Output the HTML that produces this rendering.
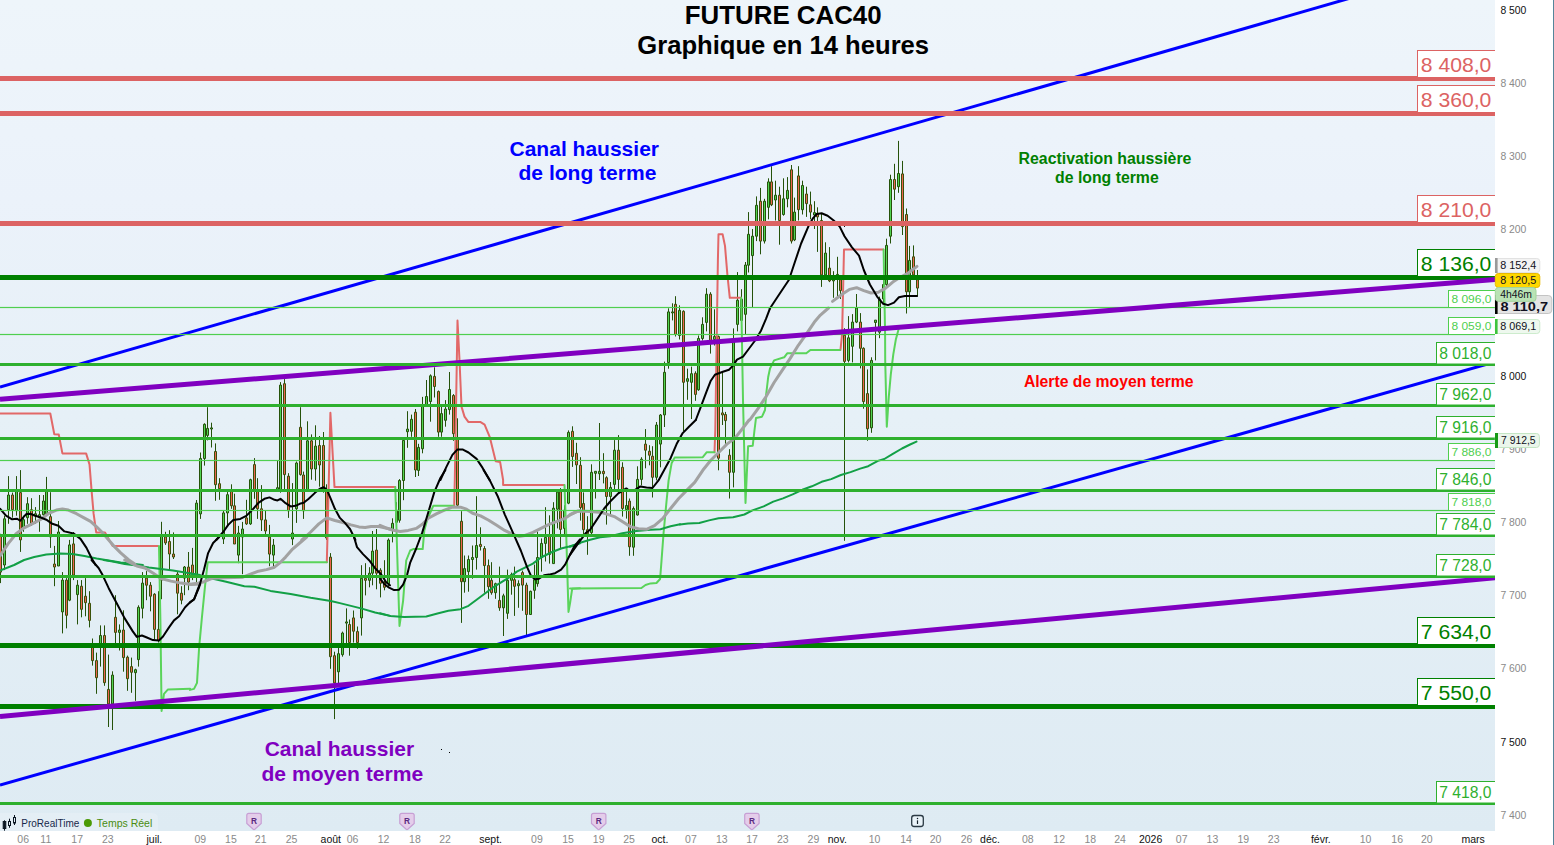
<!DOCTYPE html>
<html><head><meta charset="utf-8"><title>FUTURE CAC40</title>
<style>html,body{margin:0;padding:0;background:#fff;}body{width:1554px;height:845px;overflow:hidden;position:relative;font-family:"Liberation Sans",sans-serif;}svg{position:absolute;left:0;top:0;display:block}text{font-family:"Liberation Sans",sans-serif;}</style></head><body>
<svg width="1554" height="845" viewBox="0 0 1554 845">
<defs><linearGradient id="bg" x1="0" y1="0" x2="0" y2="1"><stop offset="0" stop-color="#eef5fa"/><stop offset="0.24" stop-color="#ebf2fa"/><stop offset="0.5" stop-color="#e6f0f7"/><stop offset="1" stop-color="#deebf3"/></linearGradient>
<clipPath id="cp"><rect x="0" y="0" width="1495" height="831"/></clipPath></defs>
<rect x="0" y="0" width="1554" height="845" fill="#fff"/>
<rect x="0" y="0" width="1495" height="831" fill="url(#bg)"/>
<rect x="1553" y="0" width="1" height="845" fill="#55859a"/>
<g clip-path="url(#cp)">
<path d="M0.5 533.8V583.1M4.5 515.7V570.1M8.5 476.1V523.8M12.5 492.6V517.7M16.5 476.1V515.7M20.5 470.1V551.9M23.5 515.7V531.8M27.5 497.2V523.8M31.5 498.2V525.8M35.5 507.1V523.8M39.5 495.0V531.8M43.5 495.0V515.7M46.5 476.9V513.7M50.5 492.2V547.9M54.5 545.9V586.2M58.5 521.0V566.0M62.5 572.1V633.4M66.5 578.1V628.4M69.5 539.9V601.2M73.5 532.0V580.1M77.5 580.1V624.4M81.5 580.1V617.3M85.5 578.1V616.3M89.5 591.2V627.4M92.5 638.5V665.6M96.5 652.6V693.8M100.5 625.4V666.6M104.5 625.4V685.8M108.5 654.6V727.0M112.5 671.3V730.0M115.5 595.2V643.5M119.5 624.4V650.5M123.5 610.3V671.7M127.5 655.6V690.8M131.5 657.6V692.8M135.5 668.7V700.8M138.5 605.3V666.6M142.5 572.1V618.4M146.5 571.1V600.2M150.5 582.1V611.3M154.5 593.2V639.5M158.5 591.2V642.5M161.5 521.8V599.2M165.5 531.8V544.9M169.5 530.2V570.1M173.5 532.4V559.0M177.5 571.1V614.3M181.5 586.2V604.3M184.5 566.0V595.2M188.5 552.0V590.2M192.5 547.9V580.1M196.5 500.0V582.1M200.5 452.5V518.9M204.5 423.3V465.6M207.5 407.2V440.4M211.5 422.7V447.5M215.5 443.4V500.8M219.5 478.2V499.8M223.5 510.8V544.0M227.5 491.7V524.9M231.5 484.3V508.8M234.5 493.7V544.0M238.5 525.9V563.2M242.5 521.9V574.2M246.5 499.8V524.9M250.5 478.7V524.9M254.5 458.1V498.8M257.5 478.2V518.9M261.5 485.1V531.0M265.5 510.8V537.0M269.5 524.9V566.2M273.5 539.0V567.2M277.5 460.5V490.7M280.5 382.1V492.7M284.5 379.1V490.7M288.5 473.2V517.9M292.5 483.1V545.1M296.5 461.5V522.9M300.5 407.2V475.6M303.5 471.6V518.9M307.5 421.3V490.7M311.5 434.4V479.7M315.5 425.3V480.7M319.5 436.0V486.7M323.5 432.0V492.7M326.5 484.3V540.0M330.5 553.1V668.8M334.5 651.7V719.1M338.5 647.7V683.9M342.5 631.6V656.7M346.5 608.4V643.7M349.5 619.5V655.7M353.5 610.5V642.6M357.5 626.5V648.7M361.5 565.2V635.6M365.5 563.2V595.4M369.5 567.2V587.3M372.5 531.0V585.3M376.5 529.0V589.3M380.5 568.2V597.4M384.5 560.2V590.3M388.5 538.4V586.7M392.5 518.3V542.4M396.5 502.2V530.4M399.5 479.1V522.7M403.5 438.8V500.2M407.5 411.2V447.8M411.5 414.6V436.8M415.5 409.0V477.0M418.5 443.8V476.0M422.5 396.9V453.3M426.5 380.0V405.6M430.5 374.4V421.7M434.5 367.3V397.5M438.5 390.5V436.8M441.5 406.6V436.8M445.5 400.1V426.7M449.5 372.0V414.6M453.5 394.1V440.8M457.5 418.3V506.2M461.5 511.2V622.9M464.5 555.5V592.7M468.5 555.5V591.7M472.5 545.5V578.7M476.5 496.2V569.6M480.5 527.3V550.5M484.5 546.1V592.7M488.5 559.5V598.8M491.5 562.2V594.7M495.5 582.7V598.8M499.5 566.6V610.8M503.5 593.7V636.0M507.5 569.6V618.9M511.5 572.6V594.7M514.5 566.6V615.9M518.5 580.3V607.8M522.5 570.6V610.8M526.5 582.7V635.0M530.5 590.7V614.9M534.5 564.6V598.8M537.5 531.4V586.7M541.5 538.4V571.6M545.5 507.2V561.5M549.5 515.3V563.6M553.5 502.2V563.6M557.5 490.1V528.4M560.5 488.1V548.5M564.5 505.2V534.4M568.5 430.4V504.2M572.5 426.3V466.9M576.5 442.8V484.0M580.5 457.2V520.6M583.5 492.4V534.7M587.5 516.2V554.8M591.5 464.3V535.7M595.5 471.3V498.5M599.5 423.0V480.0M603.5 453.2V483.4M606.5 476.3V524.6M610.5 482.0V515.6M614.5 440.1V489.4M618.5 435.1V493.4M622.5 462.3V516.6M626.5 488.4V518.6M629.5 498.5V555.8M633.5 506.5V555.8M637.5 466.3V515.6M641.5 457.2V485.4M645.5 429.1V468.3M649.5 445.2V465.3M652.5 446.2V497.5M656.5 422.0V480.4M660.5 414.0V467.3M664.5 361.6V427.0M668.5 308.3V368.7M672.5 303.3V320.4M675.5 296.2V336.5M679.5 305.3V339.5M683.5 310.3V431.0M687.5 368.7V399.8M691.5 366.6V419.0M695.5 371.3V400.8M698.5 335.5V390.8M702.5 317.3V340.5M706.5 288.2V331.4M710.5 292.2V353.6M714.5 309.3V345.5M718.5 335.5V470.3M722.5 372.7V425.0M725.5 411.9V444.1M729.5 449.2V498.5M733.5 328.4V487.4M737.5 272.1V331.4M741.5 289.2V330.4M745.5 262.0V334.4M748.5 212.1V272.5M752.5 229.0V307.5M756.5 196.4V241.1M760.5 187.9V254.3M764.5 198.8V243.5M768.5 178.3V219.3M771.5 166.2V206.1M775.5 180.7V220.5M779.5 186.7V244.7M783.5 178.3V215.7M787.5 177.1V207.3M791.5 165.0V243.5M794.5 197.6V241.1M798.5 166.2V220.5M802.5 180.7V214.5M806.5 186.7V216.9M810.5 191.6V219.3M814.5 201.2V229.0M817.5 207.3V251.9M821.5 213.3V286.9M825.5 242.3V279.7M829.5 247.1V282.1M833.5 271.2V297.8M837.5 256.8V296.6M840.5 277.3V299.0M844.5 328.2V540.8M848.5 316.1V362.4M852.5 314.1V362.4M856.5 294.0V323.1M860.5 313.1V368.4M863.5 347.3V408.7M867.5 369.4V440.8M871.5 357.3V432.8M875.5 320.1V360.4M879.5 296.6V338.2M883.5 279.7V303.8M886.5 238.7V286.9M890.5 174.7V243.5M894.5 163.8V200.0M898.5 140.9V192.8M902.5 160.9V235.0M906.5 208.5V313.5M909.5 245.9V307.5M913.5 245.4V277.3M917.5 270.0V296.6" stroke="#25520a" stroke-width="1" fill="none"/>
<path d="M3.5 518.8h2V565.0h-2zM7.5 495.0h2V509.7h-2zM15.5 491.6h2V510.7h-2zM22.5 519.7h2V527.8h-2zM26.5 503.7h2V517.7h-2zM34.5 513.7h2V515.7h-2zM38.5 514.7h2V517.7h-2zM42.5 501.0h2V514.7h-2zM45.5 491.6h2V513.7h-2zM57.5 532.0h2V566.0h-2zM61.5 580.1h2V611.9h-2zM68.5 544.9h2V600.2h-2zM76.5 585.2h2V594.6h-2zM99.5 635.5h2V645.5h-2zM111.5 675.1h2V703.9h-2zM118.5 630.0h2V632.4h-2zM134.5 669.7h2V672.7h-2zM137.5 607.3h2V659.6h-2zM141.5 583.1h2V608.3h-2zM160.5 535.9h2V580.1h-2zM183.5 567.0h2V578.1h-2zM195.5 503.1h2V576.1h-2zM199.5 458.5h2V513.9h-2zM203.5 424.3h2V458.5h-2zM206.5 428.4h2V435.4h-2zM210.5 427.9h2V429.0h-2zM222.5 512.9h2V539.0h-2zM226.5 494.7h2V512.9h-2zM237.5 533.0h2V555.1h-2zM241.5 529.0h2V537.0h-2zM249.5 479.7h2V523.9h-2zM272.5 545.1h2V555.1h-2zM276.5 487.7h2V490.7h-2zM279.5 385.1h2V490.7h-2zM291.5 533.0h2V539.0h-2zM295.5 463.0h2V508.8h-2zM306.5 440.8h2V490.7h-2zM314.5 446.1h2V469.0h-2zM337.5 653.7h2V671.8h-2zM341.5 633.0h2V654.7h-2zM345.5 621.9h2V623.1h-2zM360.5 578.3h2V617.9h-2zM368.5 573.2h2V580.3h-2zM371.5 551.1h2V573.2h-2zM387.5 540.0h2V583.7h-2zM391.5 523.3h2V530.4h-2zM395.5 510.2h2V522.3h-2zM398.5 480.5h2V520.3h-2zM402.5 440.4h2V480.5h-2zM406.5 429.1h2V431.7h-2zM410.5 419.3h2V431.3h-2zM417.5 447.4h2V470.4h-2zM421.5 404.6h2V448.8h-2zM425.5 396.5h2V404.6h-2zM429.5 375.8h2V401.5h-2zM440.5 413.6h2V432.1h-2zM444.5 409.0h2V420.3h-2zM448.5 389.5h2V409.6h-2zM463.5 568.6h2V581.7h-2zM467.5 559.5h2V571.6h-2zM471.5 557.5h2V559.5h-2zM475.5 545.5h2V557.5h-2zM494.5 583.7h2V592.7h-2zM502.5 595.8h2V607.8h-2zM506.5 580.3h2V613.3h-2zM510.5 574.6h2V580.3h-2zM517.5 583.7h2V585.7h-2zM529.5 591.3h2V614.5h-2zM533.5 579.7h2V590.3h-2zM536.5 557.5h2V583.7h-2zM540.5 543.4h2V557.5h-2zM544.5 537.4h2V543.4h-2zM552.5 508.2h2V563.6h-2zM556.5 492.1h2V509.2h-2zM563.5 510.2h2V528.4h-2zM567.5 432.4h2V503.2h-2zM590.5 472.3h2V532.7h-2zM594.5 471.3h2V473.3h-2zM598.5 471.3h2V473.7h-2zM609.5 487.4h2V496.5h-2zM613.5 450.2h2V484.4h-2zM625.5 505.5h2V509.5h-2zM632.5 508.5h2V547.2h-2zM636.5 479.4h2V515.0h-2zM640.5 459.2h2V479.4h-2zM655.5 425.0h2V477.3h-2zM659.5 415.0h2V444.1h-2zM663.5 372.3h2V414.9h-2zM667.5 311.9h2V362.6h-2zM671.5 311.9h2V312.9h-2zM678.5 310.3h2V335.5h-2zM686.5 378.7h2V381.3h-2zM690.5 373.7h2V382.3h-2zM697.5 338.5h2V389.8h-2zM701.5 324.4h2V338.5h-2zM705.5 294.2h2V322.4h-2zM713.5 336.5h2V339.5h-2zM732.5 340.5h2V472.3h-2zM736.5 300.2h2V324.4h-2zM740.5 299.2h2V320.4h-2zM744.5 265.0h2V314.3h-2zM747.5 234.3h2V265.2h-2zM751.5 236.2h2V255.6h-2zM755.5 205.3h2V236.2h-2zM763.5 201.2h2V241.1h-2zM767.5 181.9h2V207.3h-2zM774.5 195.2h2V200.0h-2zM782.5 198.8h2V214.5h-2zM786.5 190.4h2V198.8h-2zM793.5 212.1h2V239.9h-2zM801.5 185.5h2V209.7h-2zM813.5 212.6h2V215.0h-2zM824.5 253.1h2V274.9h-2zM832.5 277.3h2V280.9h-2zM836.5 274.4h2V277.3h-2zM847.5 337.8h2V360.4h-2zM851.5 322.1h2V346.3h-2zM855.5 308.0h2V322.1h-2zM870.5 360.4h2V427.8h-2zM874.5 320.1h2V322.5h-2zM878.5 299.0h2V332.2h-2zM882.5 284.5h2V299.0h-2zM885.5 245.4h2V284.5h-2zM889.5 179.5h2V236.2h-2zM897.5 173.5h2V186.7h-2zM908.5 260.4h2V291.8h-2z" stroke="#25520a" stroke-width="1" fill="#52d452"/>
<path d="M-0.5 534.8h2V572.1h-2zM11.5 495.0h2V509.7h-2zM19.5 492.6h2V539.9h-2zM30.5 509.7h2V523.8h-2zM49.5 516.7h2V536.9h-2zM53.5 564.0h2V567.0h-2zM65.5 580.1h2V615.3h-2zM72.5 543.9h2V575.1h-2zM80.5 586.2h2V609.3h-2zM84.5 596.2h2V602.7h-2zM88.5 603.3h2V620.4h-2zM91.5 647.5h2V660.6h-2zM95.5 660.6h2V677.7h-2zM103.5 635.5h2V682.7h-2zM107.5 689.4h2V703.9h-2zM114.5 617.3h2V632.4h-2zM122.5 630.0h2V657.6h-2zM126.5 657.2h2V678.7h-2zM130.5 666.6h2V672.3h-2zM145.5 578.1h2V585.2h-2zM149.5 585.2h2V596.2h-2zM153.5 594.2h2V629.4h-2zM157.5 629.4h2V640.5h-2zM164.5 536.9h2V542.9h-2zM168.5 541.5h2V554.0h-2zM172.5 554.0h2V557.0h-2zM176.5 574.1h2V593.2h-2zM180.5 593.2h2V600.2h-2zM187.5 567.0h2V582.1h-2zM191.5 565.0h2V574.1h-2zM214.5 451.5h2V484.7h-2zM218.5 483.7h2V488.7h-2zM230.5 490.7h2V505.8h-2zM233.5 505.8h2V544.0h-2zM245.5 517.9h2V523.9h-2zM253.5 464.6h2V490.7h-2zM256.5 489.7h2V508.8h-2zM260.5 508.8h2V519.9h-2zM264.5 519.9h2V531.0h-2zM268.5 537.0h2V554.1h-2zM283.5 383.7h2V474.6h-2zM287.5 476.2h2V510.8h-2zM299.5 427.3h2V474.6h-2zM302.5 475.0h2V510.8h-2zM310.5 440.8h2V469.0h-2zM318.5 445.5h2V465.0h-2zM322.5 445.5h2V488.7h-2zM325.5 490.7h2V538.0h-2zM329.5 557.1h2V656.7h-2zM333.5 655.7h2V682.9h-2zM348.5 624.5h2V642.6h-2zM352.5 617.9h2V631.2h-2zM356.5 631.6h2V642.6h-2zM364.5 578.3h2V580.3h-2zM375.5 550.1h2V573.2h-2zM379.5 570.2h2V583.3h-2zM383.5 582.3h2V587.3h-2zM414.5 412.2h2V470.0h-2zM433.5 376.4h2V386.5h-2zM437.5 391.5h2V432.1h-2zM452.5 395.5h2V433.7h-2zM456.5 437.8h2V505.2h-2zM460.5 521.3h2V581.7h-2zM479.5 544.4h2V546.5h-2zM483.5 548.5h2V565.6h-2zM487.5 565.6h2V586.7h-2zM490.5 580.3h2V592.7h-2zM498.5 600.4h2V607.8h-2zM513.5 579.7h2V586.3h-2zM521.5 572.6h2V585.1h-2zM525.5 585.1h2V614.5h-2zM548.5 536.4h2V554.5h-2zM559.5 491.7h2V529.4h-2zM571.5 431.3h2V456.5h-2zM575.5 453.3h2V464.9h-2zM579.5 465.3h2V507.5h-2zM582.5 503.5h2V529.7h-2zM586.5 529.7h2V533.7h-2zM602.5 471.3h2V473.7h-2zM605.5 477.7h2V496.5h-2zM617.5 450.2h2V479.4h-2zM621.5 467.3h2V508.5h-2zM628.5 501.1h2V546.8h-2zM644.5 444.1h2V450.2h-2zM648.5 451.2h2V455.2h-2zM651.5 456.2h2V477.3h-2zM674.5 304.3h2V334.4h-2zM682.5 311.3h2V382.3h-2zM694.5 373.3h2V394.4h-2zM709.5 294.2h2V340.5h-2zM717.5 336.5h2V458.2h-2zM721.5 412.9h2V414.9h-2zM724.5 414.5h2V420.6h-2zM728.5 455.2h2V472.3h-2zM759.5 201.2h2V241.1h-2zM770.5 181.9h2V204.8h-2zM778.5 195.2h2V220.5h-2zM790.5 169.8h2V241.1h-2zM797.5 175.9h2V209.7h-2zM805.5 194.0h2V203.6h-2zM809.5 204.8h2V212.1h-2zM816.5 213.3h2V216.9h-2zM820.5 220.5h2V274.9h-2zM828.5 268.1h2V280.9h-2zM839.5 279.7h2V290.6h-2zM843.5 335.2h2V361.4h-2zM859.5 322.1h2V348.3h-2zM862.5 348.3h2V401.6h-2zM866.5 393.6h2V428.8h-2zM893.5 179.5h2V189.2h-2zM901.5 173.9h2V226.6h-2zM905.5 214.5h2V291.8h-2zM912.5 256.8h2V274.9h-2zM916.5 279.7h2V288.1h-2z" stroke="#3a520a" stroke-width="1" fill="#ec6450"/>
<polyline points="0.0,413.5 50.3,413.5 54.3,434.2 58.8,434.6 62.4,453.4 86.1,453.4 89.5,464.4 91.5,489.6 93.6,513.7 96.2,532.4 105.0,532.4 112.7,545.9 157.9,545.9" fill="none" stroke="#e26868" stroke-width="2" stroke-linejoin="round" stroke-linecap="round" />
<polyline points="326.8,562.2 327.4,540.0 330.4,412.7 334.5,487.1 390.0,487.1" fill="none" stroke="#e26868" stroke-width="2" stroke-linejoin="round" stroke-linecap="round" />
<polyline points="454.2,505.8 454.8,480.0 457.5,320.5 459.5,360.3 461.5,406.6 464.5,416.6 468.5,422.1 480.6,422.1 484.6,424.7 489.7,436.8 495.7,461.3 500.1,461.9 503.1,480.0 503.1,485.1 564.1,485.1" fill="none" stroke="#e26868" stroke-width="2" stroke-linejoin="round" stroke-linecap="round" />
<polyline points="380.0,487.1 395.1,487.1" fill="none" stroke="#e26868" stroke-width="2" stroke-linejoin="round" stroke-linecap="round" />
<polyline points="714.5,452.2 715.3,430.0 717.9,260.0 718.5,234.3 722.6,234.3 725.0,245.9 727.4,274.9 729.8,297.8 741.0,297.8" fill="none" stroke="#e26868" stroke-width="2" stroke-linejoin="round" stroke-linecap="round" />
<polyline points="840.5,349.9 842.1,334.0 844.0,249.5 883.2,249.5" fill="none" stroke="#e26868" stroke-width="2" stroke-linejoin="round" stroke-linecap="round" />
<polyline points="159.0,545.9 160.4,620.4 161.6,710.9 164.0,693.8 168.0,689.4 190.1,688.8" fill="none" stroke="#5ad45a" stroke-width="2" stroke-linejoin="round" stroke-linecap="round" />
<polyline points="190.0,689.9 194.0,688.9 197.0,682.9 199.1,647.7 202.1,615.5 205.1,585.3 207.7,562.2 326.8,562.2" fill="none" stroke="#5ad45a" stroke-width="2" stroke-linejoin="round" stroke-linecap="round" />
<polyline points="395.3,487.1 397.1,550.5 399.5,625.9 403.1,600.8 406.2,560.5 410.2,550.5 413.2,549.1 422.7,549.1 424.3,530.4 427.3,519.3 433.3,505.8 453.4,505.8" fill="none" stroke="#5ad45a" stroke-width="2" stroke-linejoin="round" stroke-linecap="round" />
<polyline points="564.5,485.1 566.1,530.4 568.5,611.9 570.1,602.8 572.2,588.7 580.0,588.3" fill="none" stroke="#5ad45a" stroke-width="2" stroke-linejoin="round" stroke-linecap="round" />
<polyline points="570.0,588.6 641.4,588.0 645.5,585.0 650.5,583.4 656.5,583.0 660.1,579.0 661.5,560.8 663.6,532.7 666.6,500.5 668.6,480.4 671.6,463.3 674.6,457.6 702.8,457.2 706.8,452.2 714.5,452.2" fill="none" stroke="#5ad45a" stroke-width="2" stroke-linejoin="round" stroke-linecap="round" />
<polyline points="741.2,297.8 743.0,400.0 745.5,503.0 747.0,470.0 748.1,446.2 752.7,445.8 754.4,431.0 756.0,418.0 762.0,416.7 765.0,410.0 766.2,394.0 768.2,377.0 770.0,368.5 774.1,360.4 784.2,357.3 787.2,353.3 806.3,353.3 810.4,349.9 840.1,349.9" fill="none" stroke="#5ad45a" stroke-width="2" stroke-linejoin="round" stroke-linecap="round" />
<polyline points="883.6,249.5 885.1,334.0 885.2,360.0 886.8,426.8 888.8,396.6 890.8,374.4 893.3,354.3 895.9,339.2 898.9,328.0" fill="none" stroke="#5ad45a" stroke-width="2" stroke-linejoin="round" stroke-linecap="round" />
<polyline points="0.0,570.5 14.1,565.0 24.1,560.0 34.2,557.0 46.3,554.6 60.4,553.6 72.4,554.0 84.5,556.0 96.6,558.4 108.7,560.4 120.7,562.4 130.8,563.6 142.9,565.0" fill="none" stroke="#12a046" stroke-width="2" stroke-linejoin="round" stroke-linecap="round" />
<polyline points="103.6,560.0 112.7,561.6 124.7,564.0 136.8,565.6 148.9,567.6 161.0,569.1 173.0,570.5 185.1,572.5 200.0,575.1" fill="none" stroke="#12a046" stroke-width="2" stroke-linejoin="round" stroke-linecap="round" />
<polyline points="190.0,573.6 202.1,576.2 214.1,578.9 226.2,581.7 244.3,586.3 254.4,586.7 270.5,590.9 290.6,594.0 310.7,597.8 330.8,601.0 340.9,603.4 361.0,608.4 375.1,612.5 390.0,615.9" fill="none" stroke="#12a046" stroke-width="2" stroke-linejoin="round" stroke-linecap="round" />
<polyline points="380.0,613.3 390.1,615.9 404.1,616.9 426.3,616.5 438.4,613.3 448.4,610.8 460.5,609.2 468.5,605.8 476.6,599.8 484.6,593.7 492.7,587.7 500.7,582.7 508.8,577.6 516.8,571.6 524.9,567.6 532.9,563.6 541.0,557.5 551.0,552.5 561.1,548.5 569.1,546.5 580.0,543.4" fill="none" stroke="#12a046" stroke-width="2" stroke-linejoin="round" stroke-linecap="round" />
<polyline points="570.0,546.8 580.1,542.7 590.1,539.7 600.2,537.3 610.2,536.3 622.3,533.3 636.4,531.1 650.5,529.7 660.5,529.3 670.6,526.2 680.1,524.2" fill="none" stroke="#12a046" stroke-width="2" stroke-linejoin="round" stroke-linecap="round" />
<polyline points="680.0,524.6 688.0,523.6 699.3,523.0 709.0,520.4 718.6,518.2 733.1,517.2 744.4,514.5 752.4,510.4 763.7,506.4 773.3,501.6 783.0,498.4 792.6,494.4 802.3,489.8 811.9,486.3 821.6,481.8 831.2,479.1 840.9,475.0 850.5,472.1 860.2,468.6 868.2,466.2 877.9,460.9 884.3,459.0 892.4,454.1 902.0,448.5 910.1,444.5 916.5,441.6" fill="none" stroke="#12a046" stroke-width="2" stroke-linejoin="round" stroke-linecap="round" />
<polyline points="0.0,556.0 8.0,543.9 16.1,533.8 24.1,527.8 32.2,523.8 40.2,519.7 48.3,513.7 56.3,510.1 62.4,509.1 68.4,510.1 76.5,513.7 84.5,518.1 90.5,521.4 96.6,526.8 102.6,532.8 108.7,539.9 114.7,546.9 120.7,552.9 128.8,560.0 134.8,564.0" fill="none" stroke="#a2a2a2" stroke-width="3" stroke-linejoin="round" stroke-linecap="round" />
<polyline points="124.7,560.0 136.8,566.0 144.9,568.0 152.9,573.1 161.0,578.5 171.0,581.1 181.1,583.1 191.1,584.5 200.0,584.1" fill="none" stroke="#a2a2a2" stroke-width="3" stroke-linejoin="round" stroke-linecap="round" />
<polyline points="301.7,540.0 310.7,532.0 318.8,523.9 326.8,517.9 334.9,520.5 342.9,522.5 351.0,524.9 359.0,526.9 365.1,527.5 371.1,526.5 379.1,526.5 390.0,529.0" fill="none" stroke="#a2a2a2" stroke-width="3" stroke-linejoin="round" stroke-linecap="round" />
<polyline points="190.0,584.3 198.0,583.3 204.1,581.7 212.1,578.3 226.2,577.7 242.3,577.3 250.4,574.2 258.4,571.2 266.5,569.6 274.5,567.2 279.5,563.2 285.6,557.1 292.6,549.1 299.7,543.0 306.7,537.0" fill="none" stroke="#a2a2a2" stroke-width="3" stroke-linejoin="round" stroke-linecap="round" />
<polyline points="380.0,525.3 386.0,527.9 392.1,530.0 400.1,531.4 408.2,530.4 416.2,528.4 422.3,524.3 428.3,518.3 436.3,513.9 444.4,510.2 452.4,507.2 460.5,507.2 466.5,509.2 472.6,513.3 480.6,515.9 488.7,520.3 496.7,525.3 504.7,530.4 512.8,534.4 518.8,536.4 524.9,535.4 532.9,532.4 541.0,528.4 549.0,524.3 557.1,521.3 565.1,518.3 571.1,514.3 576.2,511.9 580.0,510.8" fill="none" stroke="#a2a2a2" stroke-width="3" stroke-linejoin="round" stroke-linecap="round" />
<polyline points="570.0,514.6 578.0,510.9 590.1,511.5 602.2,512.6 614.3,516.6 622.3,521.6 630.4,526.6 638.4,528.7 646.5,529.3 654.5,525.6 662.6,518.6 670.6,508.5 678.7,498.5 686.7,490.4 694.7,482.4 702.8,470.3 710.8,460.2 718.9,452.2 726.9,444.1 735.0,438.1 743.0,428.0 749.1,420.0" fill="none" stroke="#a2a2a2" stroke-width="3" stroke-linejoin="round" stroke-linecap="round" />
<polyline points="832.5,301.4 842.1,294.2 849.4,289.4 856.6,287.7 863.8,290.6 871.1,293.0 878.3,292.3 885.6,288.1 892.8,282.1 900.1,277.3 907.3,273.7 912.1,270.0 917.0,266.4" fill="none" stroke="#a2a2a2" stroke-width="3" stroke-linejoin="round" stroke-linecap="round" />
<polyline points="750.0,419.7 758.0,408.7 766.1,396.6 774.1,382.5 782.2,370.4 790.2,358.4 798.3,345.3 806.3,334.2 814.4,322.1 820.4,315.1 828.5,308.0" fill="none" stroke="#a2a2a2" stroke-width="3" stroke-linejoin="round" stroke-linecap="round" />
<polyline points="0.0,508.7 6.0,515.7 12.1,519.3 17.1,518.7 20.1,520.8 26.2,514.1 30.2,513.7 35.2,515.7 40.2,517.3 46.3,519.7 52.3,523.8 58.4,525.8 64.4,531.4 70.4,532.8 73.4,533.4 80.5,538.9 86.5,547.9 91.5,558.0 95.6,565.0" fill="none" stroke="#000" stroke-width="2" stroke-linejoin="round" stroke-linecap="round" />
<polyline points="91.5,560.0 98.6,568.0 102.6,575.1 108.7,588.2 116.7,603.3 124.7,618.4 132.8,631.4 136.8,636.9 141.9,635.5 146.9,637.5 152.9,640.1 159.0,640.5 163.0,636.5 169.0,627.4 174.0,620.4 179.1,616.3 185.1,607.3 190.1,602.3 194.2,599.2 198.2,588.2 200.0,584.1" fill="none" stroke="#000" stroke-width="2" stroke-linejoin="round" stroke-linecap="round" />
<polyline points="216.2,540.0 223.2,532.0 228.2,524.9 233.3,519.9 240.3,518.9 246.3,515.9 252.4,509.8 258.4,502.8 264.4,498.8 269.5,497.4 274.5,499.8 277.5,500.4 280.5,498.8 285.6,503.2 290.6,506.4 295.6,505.8 299.7,503.8 303.7,502.8 308.7,498.8 314.7,493.1 319.8,488.7 323.8,487.3 326.8,489.7 330.8,498.8 334.9,508.8 339.9,517.9 344.9,522.9 350.0,529.0 354.0,537.0 355.4,540.0" fill="none" stroke="#000" stroke-width="2" stroke-linejoin="round" stroke-linecap="round" />
<polyline points="190.0,602.4 194.0,599.4 199.1,587.3 204.1,569.2 208.1,553.1 213.1,543.0 219.2,537.0" fill="none" stroke="#000" stroke-width="2" stroke-linejoin="round" stroke-linecap="round" />
<polyline points="354.0,537.0 357.0,547.1 363.0,554.1 369.1,560.2 375.1,568.2 381.1,574.2 386.2,582.3 390.0,585.3" fill="none" stroke="#000" stroke-width="2" stroke-linejoin="round" stroke-linecap="round" />
<polyline points="440.4,480.0 446.4,466.9 452.4,454.9 457.5,449.4 462.5,449.4 468.5,452.5 476.6,458.9 482.6,467.9 489.7,480.0" fill="none" stroke="#000" stroke-width="2" stroke-linejoin="round" stroke-linecap="round" />
<polyline points="380.0,578.7 384.0,583.7 389.1,587.7 394.1,590.1 399.1,589.7 403.1,584.7 407.2,574.6 410.2,562.6 416.2,548.5 422.3,532.4 428.3,512.3 434.3,492.1 440.4,478.0 445.4,470.0" fill="none" stroke="#000" stroke-width="2" stroke-linejoin="round" stroke-linecap="round" />
<polyline points="483.6,470.0 490.7,482.1 497.7,496.2 504.7,514.3 512.8,532.4 520.8,550.5 526.9,566.6 530.9,575.6 534.9,579.3 539.0,578.7 544.0,575.2 549.0,574.6 555.1,573.2 561.1,569.6 565.1,564.6 569.1,556.5 574.2,546.5 580.0,539.4" fill="none" stroke="#000" stroke-width="2" stroke-linejoin="round" stroke-linecap="round" />
<polyline points="570.0,554.8 578.0,543.7 586.1,532.7 590.1,529.7 596.2,520.6 604.2,508.5 610.2,501.5 618.3,493.4 626.3,488.4 628.4,490.0 634.4,490.4 640.4,486.4 646.5,487.4 652.5,488.0 658.5,480.4 664.6,469.3 670.6,458.2 676.6,444.1 682.7,433.1 688.7,427.0 695.8,420.0" fill="none" stroke="#000" stroke-width="2" stroke-linejoin="round" stroke-linecap="round" />
<polyline points="695.8,420.0 700.8,406.9 706.8,390.8 710.8,380.7 714.9,374.7 722.9,371.7 729.0,369.7 733.0,365.6 737.0,359.6 743.0,356.6 749.1,348.5 755.1,340.5 761.1,330.4 766.2,318.4 770.0,308.3" fill="none" stroke="#000" stroke-width="2" stroke-linejoin="round" stroke-linecap="round" />
<polyline points="769.7,308.7 779.3,294.2 789.0,279.7 793.8,265.2 801.1,243.5 808.3,226.6 813.1,218.1 816.8,214.0 821.6,213.3 827.6,215.7 833.7,220.5 839.7,226.6 844.5,236.2 851.8,247.1 859.0,255.6 863.8,270.0 869.9,284.5 877.1,296.6 883.2,303.8 888.0,305.1 894.0,302.6 898.9,297.3 904.9,296.1 917.0,296.1" fill="none" stroke="#000" stroke-width="2" stroke-linejoin="round" stroke-linecap="round" />
<line x1="0" y1="387.0" x2="1495" y2="-43.6" stroke="#0000ff" stroke-width="3"/>
<line x1="0" y1="785.0" x2="1495" y2="362.0" stroke="#0000ff" stroke-width="3"/>
<rect x="0" y="306.90" width="1495" height="1.2" fill="#4fcf4f"/>
<rect x="0" y="333.90" width="1495" height="1.2" fill="#4fcf4f"/>
<rect x="0" y="459.90" width="1495" height="1.2" fill="#4fcf4f"/>
<rect x="0" y="509.90" width="1495" height="1.2" fill="#4fcf4f"/>
<rect x="0" y="643.00" width="1495" height="5" fill="#008000"/>
<rect x="0" y="704.00" width="1495" height="5" fill="#008000"/>
<rect x="0" y="275.00" width="1495" height="5" fill="#008000"/>
<line x1="0" y1="399.3" x2="1495" y2="279.5" stroke="#8000c0" stroke-width="5"/>
<line x1="0" y1="716.5" x2="1495" y2="577.8" stroke="#8000c0" stroke-width="5"/>
<rect x="0" y="76.00" width="1495" height="5" fill="#dc6363"/>
<rect x="0" y="111.00" width="1495" height="5" fill="#dc6363"/>
<rect x="0" y="221.00" width="1495" height="5" fill="#dc6363"/>
<rect x="0" y="363.00" width="1495" height="3" fill="#2eb02e"/>
<rect x="0" y="404.00" width="1495" height="3" fill="#2eb02e"/>
<rect x="0" y="437.00" width="1495" height="3" fill="#2eb02e"/>
<rect x="0" y="489.00" width="1495" height="3" fill="#2eb02e"/>
<rect x="0" y="534.00" width="1495" height="3" fill="#2eb02e"/>
<rect x="0" y="575.00" width="1495" height="3" fill="#2eb02e"/>
<rect x="0" y="802.00" width="1495" height="3" fill="#2eb02e"/>
</g>
<rect x="1417.5" y="50.5" width="81.5" height="27.0" fill="#fff" stroke="#dc6363" stroke-width="1" clip-path="url(#cp)"/>
<text x="1420.8" y="71.8" font-size="20.5" fill="#dc6363" textLength="70.6" lengthAdjust="spacingAndGlyphs">8 408,0</text>
<rect x="1417.5" y="85.5" width="81.5" height="27.0" fill="#fff" stroke="#dc6363" stroke-width="1" clip-path="url(#cp)"/>
<text x="1420.8" y="106.8" font-size="20.5" fill="#dc6363" textLength="70.6" lengthAdjust="spacingAndGlyphs">8 360,0</text>
<rect x="1417.5" y="195.5" width="81.5" height="27.0" fill="#fff" stroke="#dc6363" stroke-width="1" clip-path="url(#cp)"/>
<text x="1420.8" y="216.8" font-size="20.5" fill="#dc6363" textLength="70.6" lengthAdjust="spacingAndGlyphs">8 210,0</text>
<rect x="1417.5" y="249.5" width="81.5" height="27.0" fill="#fff" stroke="#008000" stroke-width="1" clip-path="url(#cp)"/>
<text x="1420.8" y="270.8" font-size="20.5" fill="#008000" textLength="70.6" lengthAdjust="spacingAndGlyphs">8 136,0</text>
<rect x="1417.5" y="617.5" width="81.5" height="27.0" fill="#fff" stroke="#008000" stroke-width="1" clip-path="url(#cp)"/>
<text x="1420.8" y="638.8" font-size="20.5" fill="#008000" textLength="70.6" lengthAdjust="spacingAndGlyphs">7 634,0</text>
<rect x="1417.5" y="678.5" width="81.5" height="27.0" fill="#fff" stroke="#008000" stroke-width="1" clip-path="url(#cp)"/>
<text x="1420.8" y="699.8" font-size="20.5" fill="#008000" textLength="70.6" lengthAdjust="spacingAndGlyphs">7 550,0</text>
<rect x="1436.5" y="342.5" width="62.5" height="21.5" fill="#fff" stroke="#2eb02e" stroke-width="1" clip-path="url(#cp)"/>
<text x="1439.2" y="358.5" font-size="15.7" fill="#2eb02e" textLength="52.2" lengthAdjust="spacingAndGlyphs">8 018,0</text>
<rect x="1436.5" y="383.5" width="62.5" height="21.5" fill="#fff" stroke="#2eb02e" stroke-width="1" clip-path="url(#cp)"/>
<text x="1439.2" y="399.5" font-size="15.7" fill="#2eb02e" textLength="52.2" lengthAdjust="spacingAndGlyphs">7 962,0</text>
<rect x="1436.5" y="416.5" width="62.5" height="21.5" fill="#fff" stroke="#2eb02e" stroke-width="1" clip-path="url(#cp)"/>
<text x="1439.2" y="432.5" font-size="15.7" fill="#2eb02e" textLength="52.2" lengthAdjust="spacingAndGlyphs">7 916,0</text>
<rect x="1436.5" y="468.5" width="62.5" height="21.5" fill="#fff" stroke="#2eb02e" stroke-width="1" clip-path="url(#cp)"/>
<text x="1439.2" y="484.5" font-size="15.7" fill="#2eb02e" textLength="52.2" lengthAdjust="spacingAndGlyphs">7 846,0</text>
<rect x="1436.5" y="513.5" width="62.5" height="21.5" fill="#fff" stroke="#2eb02e" stroke-width="1" clip-path="url(#cp)"/>
<text x="1439.2" y="529.5" font-size="15.7" fill="#2eb02e" textLength="52.2" lengthAdjust="spacingAndGlyphs">7 784,0</text>
<rect x="1436.5" y="554.5" width="62.5" height="21.5" fill="#fff" stroke="#2eb02e" stroke-width="1" clip-path="url(#cp)"/>
<text x="1439.2" y="570.5" font-size="15.7" fill="#2eb02e" textLength="52.2" lengthAdjust="spacingAndGlyphs">7 728,0</text>
<rect x="1436.5" y="781.5" width="62.5" height="21.5" fill="#fff" stroke="#2eb02e" stroke-width="1" clip-path="url(#cp)"/>
<text x="1439.2" y="797.5" font-size="15.7" fill="#2eb02e" textLength="52.2" lengthAdjust="spacingAndGlyphs">7 418,0</text>
<rect x="1448.5" y="290.5" width="50.5" height="17.0" fill="#fff" stroke="#4fcf4f" stroke-width="1" clip-path="url(#cp)"/>
<text x="1451.4" y="302.7" font-size="11.3" fill="#4fcf4f" textLength="40.0" lengthAdjust="spacingAndGlyphs">8 096,0</text>
<rect x="1448.5" y="317.5" width="50.5" height="17.0" fill="#fff" stroke="#4fcf4f" stroke-width="1" clip-path="url(#cp)"/>
<text x="1451.4" y="329.7" font-size="11.3" fill="#4fcf4f" textLength="40.0" lengthAdjust="spacingAndGlyphs">8 059,0</text>
<rect x="1448.5" y="443.5" width="50.5" height="17.0" fill="#fff" stroke="#4fcf4f" stroke-width="1" clip-path="url(#cp)"/>
<text x="1451.4" y="455.7" font-size="11.3" fill="#4fcf4f" textLength="40.0" lengthAdjust="spacingAndGlyphs">7 886,0</text>
<rect x="1448.5" y="493.5" width="50.5" height="17.0" fill="#fff" stroke="#4fcf4f" stroke-width="1" clip-path="url(#cp)"/>
<text x="1451.4" y="505.7" font-size="11.3" fill="#4fcf4f" textLength="40.0" lengthAdjust="spacingAndGlyphs">7 818,0</text>
<text x="684.8" y="24.1" font-size="25" font-weight="bold" fill="#000" textLength="196.8" lengthAdjust="spacingAndGlyphs">FUTURE CAC40</text>
<text x="637.3" y="54.2" font-size="25" font-weight="bold" fill="#000" textLength="291.8" lengthAdjust="spacingAndGlyphs">Graphique en 14 heures</text>
<text x="509.5" y="155.6" font-size="20.5" font-weight="bold" fill="#0000ff" textLength="149.5" lengthAdjust="spacingAndGlyphs">Canal haussier</text>
<text x="518.5" y="180" font-size="20.5" font-weight="bold" fill="#0000ff" textLength="137.9" lengthAdjust="spacingAndGlyphs">de long terme</text>
<text x="1018.6" y="164.4" font-size="16" font-weight="bold" fill="#008000" textLength="172.8" lengthAdjust="spacingAndGlyphs">Reactivation haussière</text>
<text x="1055.1" y="183.2" font-size="16" font-weight="bold" fill="#008000" textLength="103.6" lengthAdjust="spacingAndGlyphs">de long terme</text>
<text x="1023.9" y="386.9" font-size="16" font-weight="bold" fill="#ff0000" textLength="169.6" lengthAdjust="spacingAndGlyphs">Alerte de moyen terme</text>
<text x="264.7" y="755.6" font-size="20.5" font-weight="bold" fill="#8000c0" textLength="149.4" lengthAdjust="spacingAndGlyphs">Canal haussier</text>
<text x="261.4" y="780.9" font-size="20.5" font-weight="bold" fill="#8000c0" textLength="161.9" lengthAdjust="spacingAndGlyphs">de moyen terme</text>
<text x="1500.4" y="818.8" font-size="10.4" fill="#8a8a8a">7 400</text>
<text x="1500.4" y="745.6" font-size="10.4" fill="#111">7 500</text>
<text x="1500.4" y="672.4" font-size="10.4" fill="#8a8a8a">7 600</text>
<text x="1500.4" y="599.2" font-size="10.4" fill="#8a8a8a">7 700</text>
<text x="1500.4" y="526.0" font-size="10.4" fill="#8a8a8a">7 800</text>
<text x="1500.4" y="452.8" font-size="10.4" fill="#8a8a8a">7 900</text>
<text x="1500.4" y="379.6" font-size="10.4" fill="#111">8 000</text>
<text x="1500.4" y="233.2" font-size="10.4" fill="#8a8a8a">8 200</text>
<text x="1500.4" y="160.0" font-size="10.4" fill="#8a8a8a">8 300</text>
<text x="1500.4" y="86.8" font-size="10.4" fill="#8a8a8a">8 400</text>
<text x="1500.4" y="13.6" font-size="10.4" fill="#111">8 500</text>
<text x="23.2" y="842.7" font-size="10.5" fill="#8a8a8a" text-anchor="middle">06</text>
<text x="45.8" y="842.7" font-size="10.5" fill="#8a8a8a" text-anchor="middle">11</text>
<text x="77.2" y="842.7" font-size="10.5" fill="#8a8a8a" text-anchor="middle">17</text>
<text x="107.8" y="842.7" font-size="10.5" fill="#8a8a8a" text-anchor="middle">23</text>
<text x="154.4" y="842.7" font-size="10.5" fill="#111" text-anchor="middle">juil.</text>
<text x="200.3" y="842.7" font-size="10.5" fill="#8a8a8a" text-anchor="middle">09</text>
<text x="230.9" y="842.7" font-size="10.5" fill="#8a8a8a" text-anchor="middle">15</text>
<text x="260.7" y="842.7" font-size="10.5" fill="#8a8a8a" text-anchor="middle">21</text>
<text x="291.6" y="842.7" font-size="10.5" fill="#8a8a8a" text-anchor="middle">25</text>
<text x="330.8" y="842.7" font-size="10.5" fill="#111" text-anchor="middle">août</text>
<text x="352.6" y="842.7" font-size="10.5" fill="#8a8a8a" text-anchor="middle">06</text>
<text x="383.5" y="842.7" font-size="10.5" fill="#8a8a8a" text-anchor="middle">12</text>
<text x="414.9" y="842.7" font-size="10.5" fill="#8a8a8a" text-anchor="middle">18</text>
<text x="445" y="842.7" font-size="10.5" fill="#8a8a8a" text-anchor="middle">22</text>
<text x="490.6" y="842.7" font-size="10.5" fill="#111" text-anchor="middle">sept.</text>
<text x="536.9" y="842.7" font-size="10.5" fill="#8a8a8a" text-anchor="middle">09</text>
<text x="568.1" y="842.7" font-size="10.5" fill="#8a8a8a" text-anchor="middle">15</text>
<text x="598.7" y="842.7" font-size="10.5" fill="#8a8a8a" text-anchor="middle">19</text>
<text x="629.1" y="842.7" font-size="10.5" fill="#8a8a8a" text-anchor="middle">25</text>
<text x="660" y="842.7" font-size="10.5" fill="#111" text-anchor="middle">oct.</text>
<text x="690.9" y="842.7" font-size="10.5" fill="#8a8a8a" text-anchor="middle">07</text>
<text x="721.8" y="842.7" font-size="10.5" fill="#8a8a8a" text-anchor="middle">13</text>
<text x="752.1" y="842.7" font-size="10.5" fill="#8a8a8a" text-anchor="middle">17</text>
<text x="782.8" y="842.7" font-size="10.5" fill="#8a8a8a" text-anchor="middle">23</text>
<text x="813.4" y="842.7" font-size="10.5" fill="#8a8a8a" text-anchor="middle">29</text>
<text x="837.3" y="842.7" font-size="10.5" fill="#111" text-anchor="middle">nov.</text>
<text x="874.6" y="842.7" font-size="10.5" fill="#8a8a8a" text-anchor="middle">10</text>
<text x="906" y="842.7" font-size="10.5" fill="#8a8a8a" text-anchor="middle">14</text>
<text x="935.6" y="842.7" font-size="10.5" fill="#8a8a8a" text-anchor="middle">20</text>
<text x="966.5" y="842.7" font-size="10.5" fill="#8a8a8a" text-anchor="middle">26</text>
<text x="990" y="842.7" font-size="10.5" fill="#111" text-anchor="middle">déc.</text>
<text x="1027.8" y="842.7" font-size="10.5" fill="#8a8a8a" text-anchor="middle">08</text>
<text x="1059.2" y="842.7" font-size="10.5" fill="#8a8a8a" text-anchor="middle">12</text>
<text x="1090.3" y="842.7" font-size="10.5" fill="#8a8a8a" text-anchor="middle">18</text>
<text x="1120" y="842.7" font-size="10.5" fill="#8a8a8a" text-anchor="middle">24</text>
<text x="1150.6" y="842.7" font-size="10.5" fill="#111" text-anchor="middle">2026</text>
<text x="1181.7" y="842.7" font-size="10.5" fill="#8a8a8a" text-anchor="middle">07</text>
<text x="1212.4" y="842.7" font-size="10.5" fill="#8a8a8a" text-anchor="middle">13</text>
<text x="1243.3" y="842.7" font-size="10.5" fill="#8a8a8a" text-anchor="middle">19</text>
<text x="1273.7" y="842.7" font-size="10.5" fill="#8a8a8a" text-anchor="middle">23</text>
<text x="1320.8" y="842.7" font-size="10.5" fill="#111" text-anchor="middle">févr.</text>
<text x="1365.6" y="842.7" font-size="10.5" fill="#8a8a8a" text-anchor="middle">10</text>
<text x="1397.2" y="842.7" font-size="10.5" fill="#8a8a8a" text-anchor="middle">16</text>
<text x="1426.8" y="842.7" font-size="10.5" fill="#8a8a8a" text-anchor="middle">20</text>
<text x="1473.2" y="842.7" font-size="10.5" fill="#111" text-anchor="middle">mars</text>
<rect x="1495.3" y="258.5" width="44.5" height="14.0" rx="3" fill="#f3f3f3" stroke="#e2e2e2" stroke-width="1"/>
<rect x="1495.0" y="258.0" width="2.6" height="15.0" fill="#999"/>
<text x="1500.2" y="268.9" font-size="10.5" fill="#101020" textLength="36" lengthAdjust="spacingAndGlyphs">8 152,4</text>
<rect x="1495.3" y="295.5" width="56.5" height="18.0" rx="3.5" fill="#e4e4e4" stroke="#c4c4c4" stroke-width="1"/>
<rect x="1495.0" y="295.0" width="2.6" height="19.0" fill="#000"/>
<text x="1500.4" y="311.2" font-size="13" font-weight="bold" fill="#101020" textLength="47.6" lengthAdjust="spacingAndGlyphs">8 110,7</text>
<rect x="1495.3" y="273.5" width="44.5" height="14.0" rx="3" fill="#ffd800" stroke="#e8b800" stroke-width="1"/>
<text x="1500.2" y="283.9" font-size="10.5" fill="#101020" textLength="36" lengthAdjust="spacingAndGlyphs">8 120,5</text>
<rect x="1495.3" y="287.5" width="40.7" height="13.8" rx="3" fill="#b9e3b5" stroke="#a2d49c" stroke-width="1"/>
<text x="1500.2" y="297.6" font-size="10.5" fill="#101020" textLength="31.8" lengthAdjust="spacingAndGlyphs">4h46m</text>
<rect x="1495.3" y="319.5" width="44.5" height="14.0" rx="3" fill="#eef8ee" stroke="#cdeccd" stroke-width="1"/>
<rect x="1495.0" y="319.0" width="2.6" height="15.0" fill="#3cc43c"/>
<text x="1500.2" y="329.7" font-size="10.5" fill="#101020" textLength="36" lengthAdjust="spacingAndGlyphs">8 069,1</text>
<rect x="1495.3" y="433.5" width="44.100000000000136" height="14.0" rx="3" fill="#ebf6eb" stroke="#c4e6c4" stroke-width="1"/>
<rect x="1495.0" y="433.0" width="3" height="15.0" fill="#169a16"/>
<text x="1501" y="443.5" font-size="10.5" fill="#101020" textLength="34.6" lengthAdjust="spacingAndGlyphs">7 912,5</text>
<path d="M0 813H152q6 0 6 6V831H0z" fill="#fff" fill-opacity="0.18"/>
<g stroke="#0b1622" stroke-width="1" fill="none">
<path d="M4.5 820.3V830.7M9.5 818.7V827.8M14.5 815V825"/>
<rect x="3.2" y="821.5" width="2.6" height="7" fill="#0b1622"/>
<rect x="8.5" y="821.5" width="2" height="4" fill="#e3eef5"/>
<rect x="13.5" y="817.5" width="2" height="5.5" fill="#e3eef5"/>
</g>
<text x="21.3" y="827" font-size="10.5" fill="#17284a" textLength="58" lengthAdjust="spacingAndGlyphs">ProRealTime</text>
<circle cx="87.9" cy="823" r="4" fill="#4a9a06"/>
<text x="96.8" y="827" font-size="10.5" fill="#4a8c10" textLength="55.5" lengthAdjust="spacingAndGlyphs">Temps Réel</text>
<path d="M246.8 815.3q0-2 2-2h10.4q2 0 2 2v8.2l-6.4 5.8q-0.8 0.6-1.6 0l-6.4-5.8z" fill="#e4cdea" stroke="#c79fd4" stroke-width="1.2"/>
<text x="254" y="824" font-size="8.3" font-weight="bold" fill="#5a2a80" text-anchor="middle">R</text>
<path d="M399.8 815.3q0-2 2-2h10.4q2 0 2 2v8.2l-6.4 5.8q-0.8 0.6-1.6 0l-6.4-5.8z" fill="#e4cdea" stroke="#c79fd4" stroke-width="1.2"/>
<text x="407" y="824" font-size="8.3" font-weight="bold" fill="#5a2a80" text-anchor="middle">R</text>
<path d="M591.5 815.3q0-2 2-2h10.4q2 0 2 2v8.2l-6.4 5.8q-0.8 0.6-1.6 0l-6.4-5.8z" fill="#e4cdea" stroke="#c79fd4" stroke-width="1.2"/>
<text x="598.7" y="824" font-size="8.3" font-weight="bold" fill="#5a2a80" text-anchor="middle">R</text>
<path d="M744.6999999999999 815.3q0-2 2-2h10.4q2 0 2 2v8.2l-6.4 5.8q-0.8 0.6-1.6 0l-6.4-5.8z" fill="#e4cdea" stroke="#c79fd4" stroke-width="1.2"/>
<text x="751.9" y="824" font-size="8.3" font-weight="bold" fill="#5a2a80" text-anchor="middle">R</text>
<rect x="911.7" y="815.5" width="11.6" height="11" rx="2.5" fill="#e9f3f9" stroke="#2a3944" stroke-width="1.3"/>
<circle cx="917.5" cy="818.6" r="0.75" fill="#14202a"/><rect x="916.9" y="820.2" width="1.2" height="3.9" rx="0.5" fill="#14202a"/>
<rect x="441" y="749" width="1" height="1" fill="#000"/><rect x="449" y="752" width="1" height="1" fill="#000"/>
<rect x="844" y="226" width="1" height="1" fill="#111"/>
</svg></body></html>
